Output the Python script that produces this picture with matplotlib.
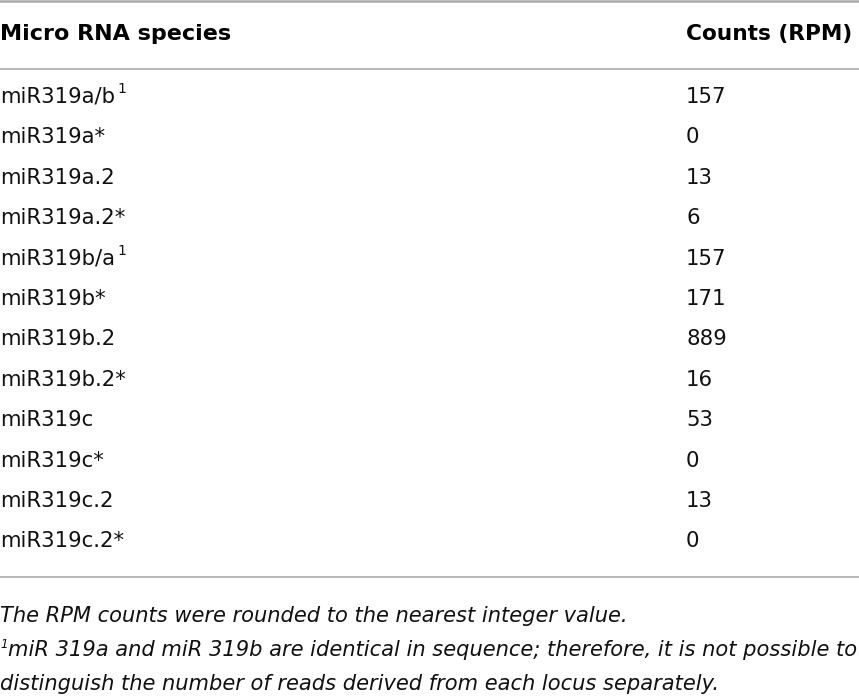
import matplotlib
matplotlib.use("Agg")
import matplotlib.pyplot as plt

header = ["Micro RNA species", "Counts (RPM)"]
species = ["miR319a/b", "miR319a*", "miR319a.2", "miR319a.2*", "miR319b/a",
           "miR319b*", "miR319b.2", "miR319b.2*", "miR319c", "miR319c*",
           "miR319c.2", "miR319c.2*"]
marks = ["1", "", "", "", "1", "", "", "", "", "", "", ""]
counts = [157, 0, 13, 6, 157, 171, 889, 16, 53, 0, 13, 0]
notes = [
    "The RPM counts were rounded to the nearest integer value.",
    "miR 319a and miR 319b are identical in sequence; therefore, it is not possible to",
    "distinguish the number of reads derived from each locus separately.",
]

plt.rcParams["font.family"] = ["DejaVu Sans"]

W, H = 859, 700
fig = plt.figure(figsize=(W / 100, H / 100), dpi=100)
ax = fig.add_axes([0, 0, 1, 1])
ax.set_xlim(0, W)
ax.set_ylim(H, 0)
ax.axis("off")

# horizontal rules of the table
line_col = "#ababab"
ax.plot([0, W], [1.2, 1.2], color=line_col, lw=1.8)
ax.plot([0, W], [69, 69], color=line_col, lw=1.2)
ax.plot([0, W], [577, 577], color=line_col, lw=1.2)

text_col = "#111111"
fs = 15.3
col_x = 686
ax.text(0, 34, header[0], fontsize=16, fontweight="bold", va="center",
        ha="left", color="black")
ax.text(col_x, 34, header[1], fontsize=15.6, fontweight="bold", va="center",
        ha="left", color="black")

fig.canvas.draw()
renderer = fig.canvas.get_renderer()
y0, dy = 97, 40.4
for i, (name, mk, c) in enumerate(zip(species, marks, counts)):
    y = y0 + i * dy
    t = ax.text(0, y, name, fontsize=fs, va="center", ha="left", color=text_col)
    ax.text(col_x, y, str(c), fontsize=fs, va="center", ha="left", color=text_col)
    if mk:
        bb = t.get_window_extent(renderer)
        ax.text(bb.x1 + 2, y - 8, mk, fontsize=10, va="center", ha="left",
                color=text_col)

# footnotes
nfs = 15.15
ax.text(0, 616, notes[0], fontsize=nfs, style="italic", va="center",
        ha="left", color=text_col)
ax.text(0, 644, "1", fontsize=8.5, style="italic", va="center", ha="left",
        color=text_col)
ax.text(8, 650, notes[1], fontsize=nfs, style="italic", va="center",
        ha="left", color=text_col)
ax.text(0, 684, notes[2], fontsize=nfs, style="italic", va="center",
        ha="left", color=text_col)

fig.savefig("out.png", dpi=100)
